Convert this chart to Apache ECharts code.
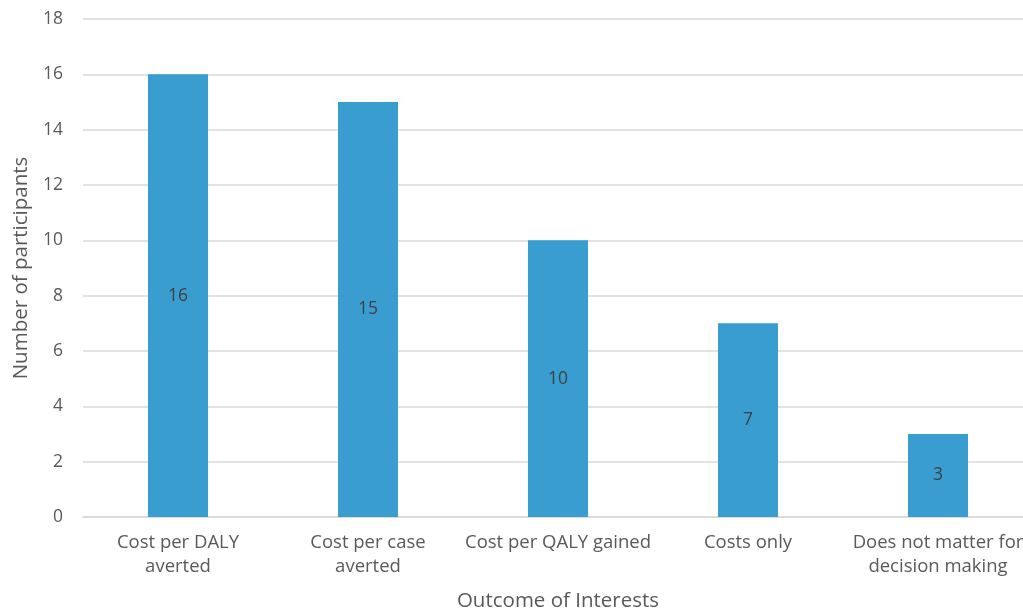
<!DOCTYPE html>
<html>
<head>
<meta charset="utf-8">
<script src="https://cdn.jsdelivr.net/npm/echarts@6/dist/echarts.min.js"></script>
<style>
  html, body { margin: 0; padding: 0; background: #fff; }
  #chart-container { width: 1023px; height: 611px; }
</style>
</head>
<body>
<div id="chart-container"></div>
<script>
const categories = [
  "Cost per DALY\naverted",
  "Cost per case\naverted",
  "Cost per QALY gained",
  "Costs only",
  "Does not matter for\ndecision making"
];
const participants = [16, 15, 10, 7, 3];

let dom = document.getElementById("chart-container");
let myChart = echarts.init(dom, null, { renderer: "canvas" });

const font = "Open Sans, Liberation Sans, sans-serif";

let option = {
  animation: false,
  grid: { left: 83, right: -10, top: 19, bottom: 94, outerBoundsMode: "none", containLabel: false },
  xAxis: {
    type: "category",
    data: categories,
    name: "Outcome of Interests",
    nameLocation: "middle",
    nameGap: 74,
    nameTextStyle: { color: "#595959", fontSize: 20.5, fontFamily: font },
    axisLine: { lineStyle: { color: "#d9d9d9", width: 1.5 } },
    axisTick: { show: false },
    axisLabel: {
      interval: 0,
      color: "#595959",
      fontSize: 18.5,
      fontFamily: font,
      lineHeight: 24,
      margin: 14
    }
  },
  yAxis: {
    type: "value",
    min: 0,
    max: 18,
    interval: 2,
    name: "Number of participants",
    nameLocation: "middle",
    nameGap: 50,
    nameTextStyle: { color: "#595959", fontSize: 20.5, fontFamily: font },
    axisLine: { show: false },
    axisTick: { show: false },
    axisLabel: { color: "#595959", fontSize: 17.5, fontFamily: font, margin: 20 },
    splitLine: { lineStyle: { color: "#d9d9d9", width: 1.5 } }
  },
  series: [{
    type: "bar",
    data: participants,
    barWidth: 60,
    itemStyle: { color: "#399dcf" },
    label: {
      show: true,
      position: "inside",
      color: "#404040",
      fontSize: 17.5,
      fontFamily: font
    }
  }]
};

myChart.setOption(option);
window.addEventListener("resize", myChart.resize);
</script>
</body>
</html>
